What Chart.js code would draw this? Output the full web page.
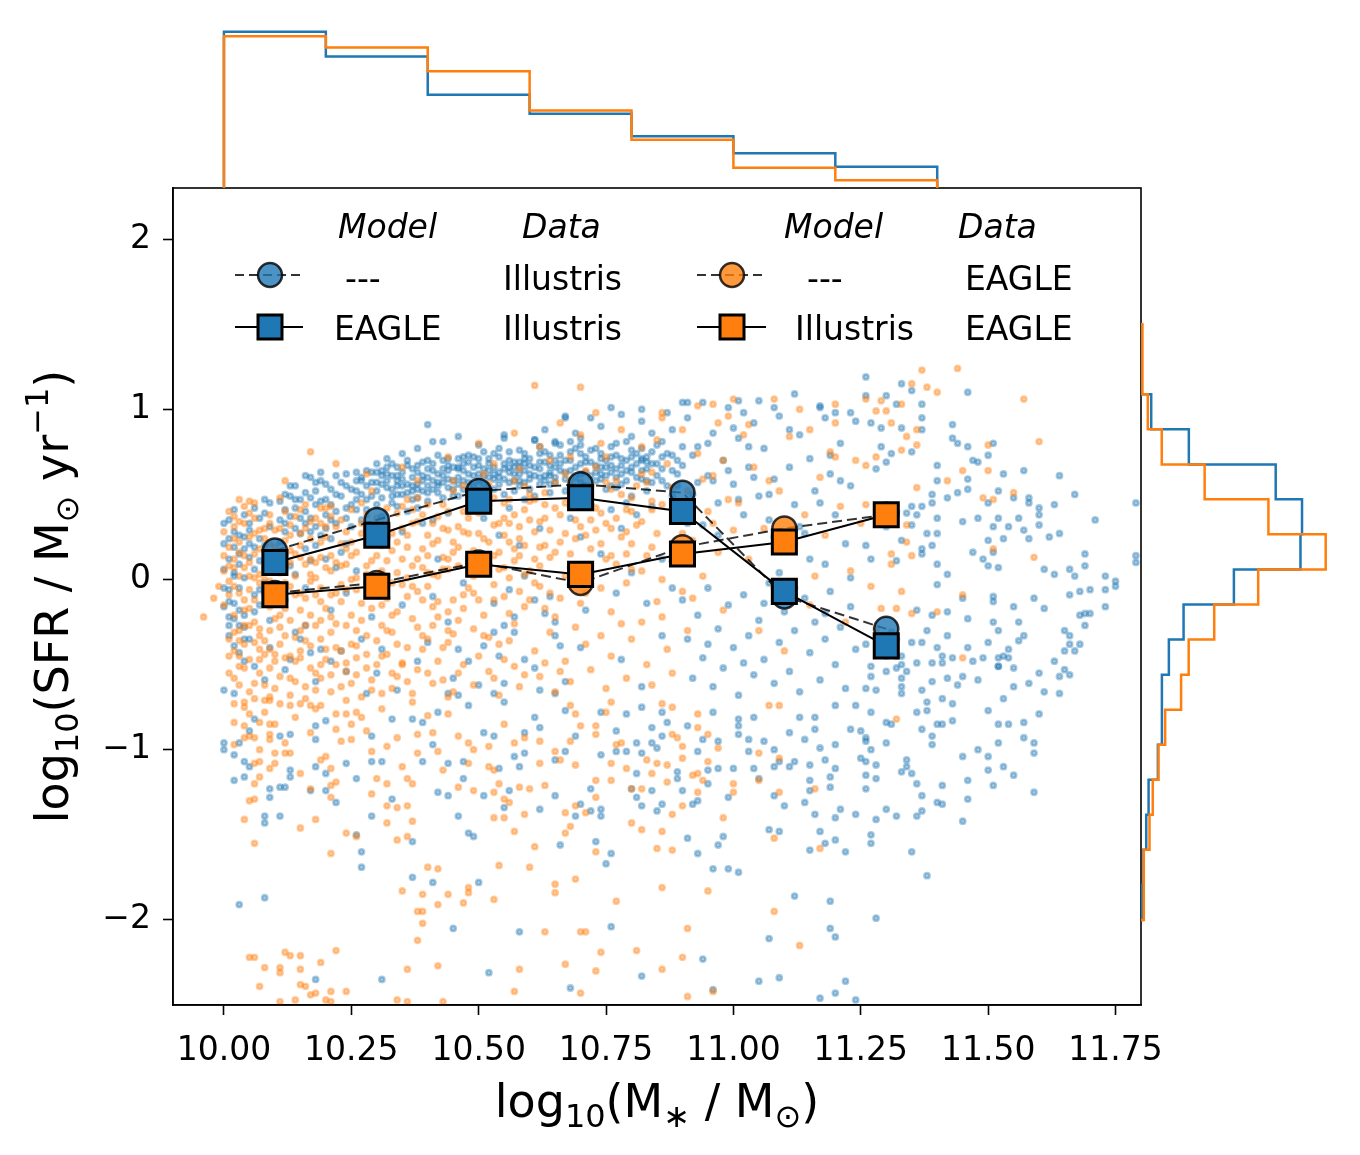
<!DOCTYPE html>
<html>
<head>
<meta charset="utf-8">
<script src="https://cdn.jsdelivr.net/npm/chart.js@4.4.1/dist/chart.umd.min.js"></script>
<style>
  html, body { margin: 0; padding: 0; background: #fff; }
  #wrap { position: relative; width: 1360px; height: 1155px; }
  canvas { position: absolute; }
  #main { left: 0; top: 0; }
  #top { left: 173px; top: 24px; }
  #right { left: 1141px; top: 188px; }
</style>
</head>
<body>
<div id="wrap">
  <canvas id="main" width="1360" height="1155"></canvas>
  <canvas id="top" width="968" height="164"></canvas>
  <canvas id="right" width="194" height="817"></canvas>
</div>
<script>
// ---- data ----
// galaxies: flat lists of log10(M*/Msun), log10(SFR) pairs
const illustrisPts = [
  // high mass, quenched tail
  11.26,1.19, 11.33,1.15, 11.35,1.11, 11.46,1.10, 11.26,1.08, 11.30,1.08, 11.32,1.03, 11.37,1.03, 11.37,0.95, 11.27,0.92,
  11.29,0.89, 11.33,0.89, 11.43,0.91, 11.37,0.88, 11.43,0.83, 11.44,0.80, 11.46,0.78, 11.29,0.78, 11.31,0.74, 11.35,0.75,
  11.50,0.73, 11.51,0.80, 11.30,0.69, 11.28,0.65, 11.40,0.67, 11.47,0.70, 11.48,0.69, 11.40,0.58, 11.46,0.59, 11.53,0.62,
  11.57,0.64, 11.64,0.61, 11.44,0.51, 11.46,0.53, 11.52,0.52, 11.39,0.50, 11.42,0.48, 11.35,0.43, 11.37,0.43, 11.39,0.45,
  11.50,0.45, 11.55,0.48, 11.58,0.48, 11.58,0.45, 11.60,0.42, 11.60,0.38, 11.63,0.44, 11.67,0.50, 11.79,0.45, 11.32,0.40,
  11.34,0.39, 11.36,0.38, 11.40,0.36, 11.45,0.34, 11.48,0.36, 11.52,0.36, 11.56,0.36, 11.60,0.32, 11.71,0.35, 11.30,0.31,
  11.35,0.32, 11.38,0.27, 11.40,0.27, 11.51,0.31, 11.54,0.31, 11.57,0.29, 11.58,0.24, 11.50,0.23, 11.53,0.24, 11.62,0.25,
  11.64,0.27, 11.26,0.20, 11.33,0.23, 11.39,0.20, 11.37,0.18, 11.37,0.15, 11.47,0.16, 11.49,0.12, 11.51,0.16, 11.27,0.12,
  11.32,0.11, 11.40,0.09, 11.42,0.03, 11.50,0.08, 11.52,0.07, 11.61,0.06, 11.63,0.03, 11.66,0.06, 11.67,0.02, 11.69,0.08,
  11.69,0.15, 11.79,0.14, 11.79,0.10, 11.73,0.02, 11.75,-0.01, 11.75,-0.04, 11.73,-0.06, 11.70,-0.06, 11.68,-0.07, 11.66,-0.09,
  11.69,-0.20, 11.70,-0.20, 11.68,-0.21, 11.69,-0.27, 11.73,-0.16, 11.61,-0.17, 11.59,-0.11, 11.55,-0.16, 11.51,-0.10, 11.51,-0.13,
  11.45,-0.11, 11.40,-0.03, 11.36,-0.18, 11.39,-0.21, 11.42,-0.19, 11.46,-0.23, 11.51,-0.25, 11.52,-0.30, 11.56,-0.25, 11.57,-0.33,
  11.56,-0.36, 11.54,-0.41, 11.54,-0.46, 11.52,-0.51, 11.55,-0.52, 11.60,-0.55, 11.63,-0.48, 11.65,-0.53, 11.65,-0.30, 11.66,-0.33,
  11.66,-0.38, 11.68,-0.38, 11.65,-0.42, 11.67,-0.42, 11.64,-0.57, 11.66,-0.56, 11.61,-0.66, 11.64,-0.67, 11.58,-0.61, 11.55,-0.63,
  11.53,-0.70, 11.60,-0.79, 11.57,-0.84, 11.54,-0.85, 11.52,-0.85, 11.52,-0.96, 11.57,-0.93, 11.59,-0.96, 11.59,-1.02, 11.50,-0.77,
  11.48,-1.00, 11.50,-1.04, 11.53,-1.10, 11.55,-1.15, 11.50,-1.12, 11.46,-1.18, 11.51,-1.21, 11.46,-1.29, 11.59,-1.25, 11.45,-1.04,
  11.41,-1.21, 11.37,-1.27, 11.34,-1.06, 11.34,-1.10, 11.33,-1.13, 11.35,-1.14, 11.36,-1.20, 11.40,-1.31, 11.41,-1.32, 11.37,-1.36,
  11.36,-1.39, 11.32,-1.39, 11.45,-1.42, 11.35,-1.60, 11.38,-1.74, 11.43,-0.83, 11.41,-0.85, 11.40,-0.85, 11.39,-0.92, 11.39,-0.97,
  11.37,-0.88, 11.31,-0.85, 11.28,-0.65, 11.26,-0.64, 11.27,-0.57, 11.27,-0.51, 11.30,-0.54, 11.32,-0.52, 11.33,-0.50, 11.34,-0.54,
  11.33,-0.58, 11.33,-0.63, 11.33,-0.67, 11.37,-0.65, 11.38,-0.72, 11.38,-0.77, 11.36,-0.78, 11.41,-0.70, 11.43,-0.73, 11.39,-0.60,
  11.42,-0.58, 11.44,-0.62, 11.45,-0.57, 11.48,-0.59, 11.36,-0.49, 11.39,-0.49, 11.41,-0.49, 11.41,-0.45, 11.43,-0.46, 11.40,-0.40,
  11.42,-0.33, 11.38,-0.30, 11.37,-0.37, 11.35,-0.37, 11.31,-0.31, 11.32,-0.35, 11.26,-0.38, 11.30,-0.41, 11.30,-0.45, 11.32,-0.45,
  11.33,-0.45, 11.47,-0.48, 11.49,-0.46, 11.50,-0.37, 11.46,-0.40, 11.52,-0.46, 11.53,-0.45, 11.52,-0.51,
  // 10.66 - 11.3, low SFR
  10.67,-0.77, 10.69,-0.92, 10.67,-1.01, 10.74,-1.03, 10.72,-1.23, 10.70,-1.32, 10.72,-1.36, 10.74,-1.35, 10.74,-1.39, 10.69,-1.39,
  10.73,-1.54, 10.76,-1.61, 10.75,-1.67, 10.66,-1.56, 10.77,-1.01, 10.79,-1.01, 10.81,-0.96, 10.84,-0.96, 10.85,-0.99, 10.86,-0.92,
  10.87,-0.84, 10.91,-0.86, 10.82,-1.02, 10.81,-1.14, 10.80,-1.23, 10.84,-1.24, 10.81,-1.28, 10.82,-1.33, 10.85,-1.36, 10.86,-1.32,
  10.89,-1.17, 10.89,-1.13, 10.90,-1.24, 10.92,-1.32, 10.93,-1.30, 10.95,-1.20, 10.95,-1.12, 10.93,-1.01, 10.94,-0.94, 10.97,-0.95,
  10.97,-1.11, 10.99,-1.28, 11.00,-1.11, 11.01,-0.91, 11.01,-0.86, 11.03,-0.94, 11.03,-1.01, 11.04,-1.11, 11.05,-1.17, 11.06,-0.95,
  11.08,-1.00, 11.08,-1.10, 11.09,-1.07, 11.11,-1.10, 11.12,-1.07, 11.15,-1.09, 11.15,-1.18, 11.15,-1.24, 11.14,-1.31, 11.16,-1.38,
  11.17,-1.48, 11.18,-1.55, 11.20,-1.53, 11.20,-1.40, 11.21,-1.35, 11.19,-1.22, 11.19,-1.16, 11.20,-1.11, 11.18,-1.06, 11.20,-0.97,
  11.17,-0.99, 11.16,-0.88, 11.14,-0.94, 11.13,-0.81, 11.11,-0.90, 11.10,-1.33, 11.08,-1.27, 11.07,-1.47, 11.09,-1.48, 11.15,-1.59,
  11.22,-1.60, 11.24,-1.38, 11.26,-1.15, 11.26,-1.23, 11.28,-1.17, 11.28,-1.09, 11.26,-1.07, 11.25,-1.05, 11.27,-1.00, 11.30,-0.96,
  11.26,-0.95, 11.30,-1.35, 11.28,-1.41, 11.27,-1.55, 11.27,-1.50, 10.91,-1.52, 10.93,-1.61, 10.97,-1.56, 10.98,-1.51, 10.96,-1.70,
  10.99,-1.70, 11.01,-1.72, 11.12,-1.86, 11.19,-1.89, 11.28,-1.99, 11.19,-2.05, 11.20,-2.10, 11.07,-2.11, 10.94,-2.23, 10.82,-2.33,
  10.76,-2.04, 10.68,-2.40, 10.96,-2.41, 11.05,-2.36, 11.09,-2.34, 11.17,-2.46, 11.20,-2.43, 11.22,-2.36, 11.24,-2.47, 11.01,-0.82,
  11.04,-0.81, 11.16,-0.81, 11.20,-0.74, 11.24,-0.74, 11.27,-0.78, 11.30,-0.84, 11.23,-0.88, 11.25,-0.89, 11.26,-0.93, 10.96,-0.78,
  10.82,-0.75, 10.86,-0.78, 10.84,-0.87, 10.77,-0.89, 10.79,-0.79, 10.74,-0.78,
  // 10.0 - 10.66, low SFR
  10.00,-0.96, 10.00,-1.00, 10.02,-1.03, 10.02,-1.18, 10.04,-1.16, 10.04,-1.07, 10.05,-1.10, 10.05,-0.89, 10.03,-0.96, 10.06,-0.82,
  10.09,-1.28, 10.09,-1.23, 10.08,-1.43, 10.08,-1.39, 10.11,-1.39, 10.11,-1.22, 10.12,-1.22, 10.13,-1.16, 10.13,-1.12, 10.13,-0.91,
  10.11,-0.92, 10.18,-0.94, 10.18,-0.86, 10.20,-0.83, 10.18,-1.10, 10.20,-1.14, 10.22,-1.31, 10.24,-1.08, 10.26,-1.17, 10.29,-0.92,
  10.29,-1.07, 10.31,-1.07, 10.33,-0.82, 10.33,-1.29, 10.29,-1.39, 10.26,-1.50, 10.27,-1.60, 10.27,-1.69, 10.37,-1.54, 10.37,-1.75,
  10.41,-1.78, 10.46,-1.39, 10.47,-1.17, 10.48,-1.49, 10.49,-1.51, 10.50,-1.78, 10.45,-2.05, 10.39,-1.07, 10.41,-0.97, 10.42,-1.25,
  10.44,-1.08, 10.44,-1.27, 10.47,-1.07, 10.51,-1.27, 10.54,-1.11, 10.56,-1.24, 10.55,-1.34, 10.58,-1.10, 10.59,-1.02, 10.62,-1.35,
  10.65,-1.27, 10.58,-2.07, 10.52,-2.31, 10.31,-2.35, 10.18,-2.35, 10.08,-1.87, 10.03,-1.91, 10.17,-1.24, 10.20,-1.24, 10.65,-1.06,
  10.61,-0.81, 10.59,-0.90, 10.53,-0.92, 10.57,-1.04, 10.39,-0.84, 10.37,-0.82, 10.42,-0.78, 10.48,-0.74, 10.51,-0.90, 10.62,-0.87,
  10.55,-0.72,
  // below the sequence, -0.7 .. 0
  10.00,0.21, 10.01,-0.06, 10.01,-0.22, 10.01,-0.33, 10.02,-0.23, 10.03,-0.27, 10.04,-0.35, 10.03,-0.43, 10.04,-0.48, 10.06,-0.51,
  10.02,0.04, 10.00,-0.16, 10.00,-0.65, 10.02,-0.67, 10.08,-0.59, 10.09,-0.40, 10.13,-0.47, 10.17,-0.43, 10.19,-0.41, 10.21,-0.48,
  10.24,-0.54, 10.28,-0.67, 10.44,-0.67, 10.46,-0.68, 10.48,-0.48, 10.51,-0.39, 10.53,-0.31, 10.55,-0.27, 10.57,-0.22, 10.57,-0.31,
  10.59,-0.47, 10.61,-0.12, 10.63,-0.20, 10.65,-0.25, 10.65,-0.33, 10.66,-0.39, 10.62,-0.65, 10.65,-0.67, 10.53,-0.67, 10.55,-0.61,
  10.46,-0.41, 10.40,-0.37, 10.31,-0.41, 10.27,-0.35, 10.16,-0.27, 10.15,-0.35, 10.12,-0.53,
  10.12,-0.12, 10.16,-0.05, 10.21,-0.18, 10.24,-0.08, 10.29,-0.22, 10.32,-0.03, 10.35,-0.15, 10.41,-0.10, 10.44,-0.25, 10.47,-0.02,
  10.53,-0.14, 10.56,-0.06, 10.59,0.02, 10.64,-0.10, 10.68,-0.03, 10.71,-0.18, 10.77,-0.08, 10.80,0.04, 10.83,-0.14, 10.88,-0.05,
  10.14,-0.31, 10.23,-0.42, 10.30,-0.55, 10.38,-0.48, 10.45,-0.58, 10.54,-0.45, 10.61,-0.52, 10.70,-0.40, 10.78,-0.47, 10.86,-0.33,
  10.18,-0.60, 10.34,-0.65, 10.50,-0.62, 10.67,-0.60, 10.82,-0.63, 10.26,0.05, 10.42,0.12, 10.58,0.20, 10.74,0.15, 10.90,0.20,
  10.70,0.25, 10.78,0.30, 10.86,0.12, 10.62,0.30, 10.54,0.26,
  // upper scatter above the sequence
  10.40,0.91, 10.46,0.84, 10.41,0.81, 10.43,0.81, 10.38,0.77, 10.32,0.71, 10.27,0.60, 10.17,0.60, 10.19,0.63, 10.67,0.95,
  10.55,0.83, 10.61,0.82, 10.50,0.79, 10.65,0.81, 11.12,1.09, 11.05,1.05, 11.01,1.05, 11.02,0.98, 10.90,1.04, 10.91,1.04,
  10.76,1.01, 10.82,1.00, 10.67,0.96, 11.08,1.01, 11.17,1.01, 11.18,0.95, 11.23,0.98,
  // star-forming sequence
  10.01,0.12, 10.02,0.28, 10.03,-0.05, 10.04,0.18, 10.05,0.33, 10.02,-0.14, 10.06,0.06, 10.07,0.24, 10.08,0.39, 10.03,0.09,
  10.09,0.15, 10.01,0.35, 10.04,-0.21, 10.06,0.42, 10.08,-0.02, 10.05,0.21, 10.02,0.02, 10.09,0.31, 10.07,0.11, 10.03,0.26,
  10.00,0.06, 10.04,0.38, 10.06,-0.09, 10.08,0.20, 10.01,-0.27, 10.05,0.13, 10.09,0.45, 10.07,-0.15, 10.02,0.19, 10.04,0.01,
  10.00,-0.05, 10.01,0.24, 10.02,-0.39, 10.03,0.15, 10.04,-0.28, 10.05,0.29, 10.06,-0.19, 10.07,0.36, 10.08,0.06, 10.09,-0.24,
  10.00,0.33, 10.01,-0.13, 10.02,0.41, 10.03,-0.18, 10.04,0.25, 10.05,-0.35, 10.06,0.19, 10.07,-0.06, 10.08,0.47, 10.09,0.09,
  10.11,0.22, 10.12,0.41, 10.13,0.08, 10.14,0.30, 10.15,0.47, 10.16,0.18, 10.17,0.36, 10.18,0.52, 10.19,0.26, 10.20,0.12,
  10.21,0.44, 10.22,0.33, 10.23,0.57, 10.24,0.21, 10.11,0.35, 10.12,0.15, 10.13,0.49, 10.14,0.03, 10.15,0.27, 10.16,0.40,
  10.17,0.11, 10.18,0.31, 10.19,0.46, 10.20,0.38, 10.21,0.24, 10.22,0.50, 10.23,0.16, 10.24,0.42, 10.25,0.31, 10.12,0.28,
  10.14,0.55, 10.16,0.61, 10.18,0.20, 10.20,0.56, 10.22,0.07, 10.24,0.62, 10.13,0.37, 10.17,0.48, 10.21,0.35, 10.25,0.53,
  10.11,0.46, 10.12,0.33, 10.13,0.55, 10.14,0.42, 10.15,0.36, 10.16,0.51, 10.17,0.28, 10.18,0.44, 10.19,0.58, 10.20,0.47,
  10.21,0.53, 10.22,0.40, 10.23,0.49, 10.24,0.55, 10.25,0.44, 10.26,0.58, 10.27,0.50, 10.28,0.55, 10.29,0.63, 10.30,0.57,
  10.12,0.50, 10.14,0.47, 10.16,0.33, 10.18,0.57, 10.20,0.30, 10.22,0.61, 10.24,0.36, 10.26,0.47, 10.28,0.41, 10.30,0.68,
  10.26,0.41, 10.27,0.58, 10.28,0.30, 10.29,0.49, 10.30,0.63, 10.31,0.37, 10.32,0.54, 10.33,0.45, 10.34,0.66, 10.35,0.28,
  10.36,0.51, 10.37,0.60, 10.38,0.42, 10.39,0.69, 10.40,0.55, 10.41,0.35, 10.42,0.62, 10.43,0.48, 10.44,0.71, 10.45,0.58,
  10.26,0.52, 10.28,0.64, 10.30,0.44, 10.32,0.25, 10.34,0.50, 10.36,0.67, 10.38,0.56, 10.40,0.46, 10.42,0.73, 10.44,0.39,
  10.27,0.35, 10.29,0.57, 10.31,0.61, 10.33,0.53, 10.35,0.59, 10.37,0.47, 10.39,0.52, 10.41,0.64, 10.43,0.57, 10.45,0.66,
  10.30,0.52, 10.34,0.43, 10.38,0.63, 10.42,0.51, 10.28,0.47, 10.36,0.40, 10.40,0.70, 10.44,0.54, 10.33,0.68, 10.39,0.33,
  10.26,0.63, 10.31,0.48, 10.35,0.74, 10.43,0.65, 10.37,0.55,
  10.31,0.64, 10.32,0.58, 10.33,0.49, 10.34,0.61, 10.35,0.55, 10.36,0.70, 10.37,0.52, 10.38,0.67, 10.39,0.61, 10.40,0.51,
  10.41,0.68, 10.42,0.55, 10.43,0.70, 10.44,0.59, 10.45,0.53, 10.46,0.65, 10.47,0.58, 10.48,0.73, 10.49,0.66, 10.50,0.62,
  10.51,0.56, 10.52,0.64, 10.53,0.74, 10.54,0.60, 10.55,0.65, 10.56,0.75, 10.57,0.69, 10.58,0.58, 10.59,0.68, 10.60,0.59,
  10.32,0.66, 10.35,0.63, 10.38,0.53, 10.41,0.58, 10.44,0.67, 10.47,0.72, 10.50,0.71, 10.53,0.62, 10.56,0.66, 10.59,0.74,
  10.34,0.58, 10.40,0.65, 10.46,0.56, 10.52,0.53, 10.58,0.66,
  10.46,0.49, 10.47,0.64, 10.48,0.57, 10.49,0.72, 10.50,0.45, 10.51,0.61, 10.52,0.68, 10.53,0.53, 10.54,0.77, 10.55,0.59,
  10.56,0.42, 10.57,0.66, 10.58,0.55, 10.59,0.71, 10.60,0.62, 10.61,0.49, 10.62,0.74, 10.63,0.58, 10.64,0.67, 10.65,0.80,
  10.46,0.60, 10.48,0.69, 10.50,0.58, 10.52,0.44, 10.54,0.63, 10.56,0.70, 10.58,0.62, 10.60,0.53, 10.62,0.65, 10.64,0.51,
  10.47,0.53, 10.49,0.61, 10.51,0.75, 10.53,0.66, 10.55,0.50, 10.57,0.58, 10.59,0.64, 10.61,0.82, 10.63,0.69, 10.65,0.57,
  10.50,0.67, 10.54,0.56, 10.58,0.76, 10.62,0.56, 10.48,0.40, 10.56,0.63, 10.60,0.71, 10.64,0.61, 10.52,0.60, 10.46,0.71,
  10.55,0.85, 10.59,0.47, 10.63,0.88, 10.51,0.36, 10.57,0.52,
  10.31,0.56, 10.33,0.61, 10.35,0.50, 10.37,0.65, 10.39,0.58, 10.41,0.53, 10.43,0.61, 10.45,0.49, 10.47,0.68, 10.49,0.55,
  10.51,0.65, 10.53,0.59, 10.55,0.68, 10.57,0.62, 10.59,0.57, 10.61,0.66, 10.63,0.61, 10.65,0.70, 10.67,0.59, 10.69,0.66,
  10.71,0.72, 10.73,0.63, 10.75,0.70, 10.77,0.65, 10.79,0.58, 10.81,0.68, 10.83,0.72, 10.32,0.62, 10.36,0.56, 10.40,0.60,
  10.44,0.64, 10.48,0.62, 10.52,0.71, 10.56,0.57, 10.60,0.67, 10.64,0.73, 10.68,0.64, 10.72,0.61, 10.76,0.67, 10.80,0.76,
  10.84,0.68, 10.34,0.55, 10.42,0.57, 10.50,0.52, 10.58,0.69, 10.66,0.68, 10.74,0.59, 10.82,0.64, 10.46,0.66, 10.54,0.72,
  10.62,0.60, 10.70,0.74, 10.78,0.71, 10.38,0.48, 10.86,0.65,
  10.66,0.64, 10.67,0.52, 10.68,0.75, 10.69,0.60, 10.70,0.83, 10.71,0.47, 10.72,0.69, 10.73,0.58, 10.74,0.90, 10.75,0.66,
  10.76,0.41, 10.77,0.73, 10.78,0.56, 10.79,0.81, 10.80,0.63, 10.81,0.38, 10.82,0.70, 10.83,0.52, 10.84,0.86, 10.85,0.61,
  10.66,0.79, 10.68,0.55, 10.70,0.68, 10.72,0.44, 10.74,0.62, 10.76,0.78, 10.78,0.67, 10.80,0.49, 10.82,0.93, 10.84,0.57,
  10.67,0.70, 10.69,0.86, 10.71,0.63, 10.73,0.77, 10.75,0.53, 10.77,0.60, 10.79,0.45, 10.81,0.74, 10.83,0.65, 10.85,0.79,
  10.70,0.57, 10.74,0.71, 10.78,0.97, 10.82,0.59, 10.68,0.36, 10.76,0.55, 10.80,0.72, 10.84,0.43, 10.72,0.95, 10.79,0.64,
  10.61,0.61, 10.62,0.69, 10.63,0.75, 10.64,0.63, 10.65,0.66, 10.66,0.73, 10.67,0.63, 10.68,0.70, 10.69,0.77, 10.70,0.62,
  10.71,0.69, 10.72,0.76, 10.73,0.67, 10.74,0.74, 10.75,0.61, 10.76,0.72, 10.77,0.80, 10.78,0.62, 10.79,0.70, 10.80,0.66,
  10.81,0.60, 10.82,0.77, 10.83,0.69, 10.84,0.75, 10.85,0.68, 10.86,0.58, 10.87,0.74, 10.88,0.64, 10.89,0.70, 10.90,0.78,
  10.62,0.78, 10.65,0.60, 10.68,0.81, 10.71,0.55, 10.74,0.66, 10.77,0.54, 10.80,0.84, 10.83,0.58, 10.86,0.81, 10.89,0.55,
  10.64,0.56, 10.70,0.79, 10.76,0.63, 10.82,0.71, 10.88,0.73,
  10.86,0.72, 10.87,0.55, 10.88,0.88, 10.89,0.41, 10.90,0.67, 10.91,0.95, 10.92,0.50, 10.93,0.78, 10.94,0.32, 10.95,0.61,
  10.96,0.86, 10.97,0.45, 10.98,0.70, 10.99,1.01, 11.00,0.56, 11.01,0.83, 11.02,0.38, 11.03,0.66, 11.04,0.92, 11.05,0.49,
  10.87,0.98, 10.89,0.62, 10.91,0.33, 10.93,0.57, 10.95,0.80, 10.97,0.26, 10.99,0.64, 11.01,0.47, 11.03,0.78, 10.88,0.49,
  10.92,0.73, 10.96,0.58, 11.00,0.89, 11.04,0.60, 10.94,1.04,
  11.06,0.77, 11.07,0.35, 11.08,0.59, 11.09,0.96, 11.10,0.18, 11.11,0.66, 11.12,0.44, 11.13,0.85, 11.14,0.27, 11.15,0.71,
  11.16,0.52, 11.17,1.02, 11.18,0.09, 11.19,0.62, 11.20,0.38, 11.21,0.80, 11.22,0.21, 11.23,0.55, 11.24,0.93, 11.07,0.50,
  11.09,0.04, 11.11,0.88, 11.13,0.31, 11.15,0.12, 11.17,0.45, 11.19,0.73, 11.21,0.58, 11.23,0.01, 11.08,0.25, 11.20,0.98,
  10.90,-0.12, 10.91,-0.35, 10.92,-0.58, 10.93,-0.21, 10.94,-0.46, 10.95,-0.05, 10.96,-0.63, 10.97,-0.29, 10.98,-0.52, 10.99,-0.15,
  11.00,-0.40, 11.01,-0.68, 11.02,-0.09, 11.03,-0.33, 11.04,-0.56, 11.05,-0.24, 11.06,-0.47, 11.07,-0.02, 11.08,-0.61, 11.09,-0.37,
  11.10,-0.19, 11.11,-0.54, 11.12,-0.30, 11.13,-0.66, 11.14,-0.11, 11.15,-0.43, 11.16,-0.25, 11.17,-0.59, 11.18,-0.35, 11.19,-0.07,
  11.20,-0.50, 11.21,-0.28, 11.22,-0.64, 11.23,-0.16, 11.24,-0.41, 11.06,-0.14, 11.12,-0.05, 11.18,-0.20, 10.95,-0.38, 11.02,-0.49
];

const eaglePts = [
  // high mass
  11.37,1.23, 11.44,1.24, 11.35,1.15, 11.38,1.13, 11.40,1.10, 11.57,1.06, 11.26,1.06, 11.29,1.05, 11.33,1.03, 11.28,0.99,
  11.30,0.99, 11.31,0.92, 11.34,0.84, 11.36,0.88, 11.36,0.79, 11.33,0.76, 11.28,0.72, 11.26,0.67, 11.50,0.79, 11.60,0.81,
  11.45,0.64, 11.50,0.64, 11.42,0.58, 11.36,0.54, 11.49,0.48, 11.51,0.47, 11.55,0.51, 11.34,0.32, 11.34,0.22, 11.31,0.15,
  11.35,0.14, 11.31,0.09, 11.51,0.18, 11.59,0.13, 11.33,-0.07, 11.27,-0.04, 11.45,-0.09, 11.29,-0.17, 11.32,-0.17, 11.35,-0.20,
  11.40,-0.19, 11.28,-0.29, 11.45,-0.46, 11.32,-0.82, 11.26,0.44,
  // 10.66 - 11.3, low SFR
  10.68,-0.74, 10.69,-0.79, 10.70,-0.86, 10.76,-0.72, 10.75,-0.78, 10.73,-0.86, 10.73,-0.91, 10.68,-0.95, 10.66,-1.06, 10.69,-1.09,
  10.77,-0.97, 10.78,-0.96, 10.76,-1.08, 10.76,-1.18, 10.73,-1.18, 10.73,-1.28, 10.69,-1.33, 10.67,-1.37, 10.71,-1.37, 10.68,-1.45,
  10.67,-1.49, 10.73,-1.60, 10.69,-1.76, 10.80,-1.43, 10.82,-1.47, 10.86,-1.48, 10.85,-1.58, 10.88,-1.59, 10.88,-1.38, 10.90,-1.33,
  10.93,-1.25, 10.90,-1.05, 10.90,-0.98, 10.88,-0.91, 10.89,-0.93, 10.86,-0.73, 10.88,-0.75, 10.93,-0.79, 10.93,-0.87, 10.95,-0.91,
  10.97,-0.99, 10.95,-1.07, 10.92,-1.15, 10.93,-1.14, 10.94,-1.18, 10.84,-1.14, 10.85,-1.08, 10.83,-1.06, 10.87,-1.09, 10.87,-1.19,
  10.79,-1.11, 10.82,-1.23, 10.80,-1.23, 10.98,-1.40, 11.00,-1.20, 11.00,-1.25, 11.05,-1.02, 11.05,-1.18, 11.09,-1.05, 11.09,-1.25,
  11.16,-1.23, 11.08,-1.52, 11.17,-1.58, 11.07,-0.74, 11.09,-0.74, 10.86,-1.81, 10.95,-1.83, 11.08,-1.95, 11.13,-2.15, 10.77,-1.89,
  10.70,-2.07, 10.71,-2.07, 10.74,-2.19, 10.81,-2.18, 10.91,-2.05, 10.90,-2.22, 10.86,-2.29, 10.73,-2.30, 10.67,-2.26, 10.70,-2.43,
  10.91,-2.45, 10.96,-2.42,
  // 10.0 - 10.66, low SFR
  10.02,-0.73, 10.04,-0.72, 10.08,-0.71, 10.09,-0.71, 10.02,-0.84, 10.04,-0.86, 10.05,-0.79, 10.07,-0.84, 10.10,-0.85, 10.13,-0.74,
  10.15,-0.73, 10.17,-0.74, 10.19,-0.74, 10.22,-0.79, 10.24,-0.79, 10.25,-0.85, 10.26,-0.78, 10.02,-0.97, 10.04,-0.93, 10.06,-0.93,
  10.07,-1.00, 10.09,-0.94, 10.09,-0.91, 10.10,-1.02, 10.12,-1.02, 10.13,-1.02, 10.06,-1.08, 10.07,-1.07, 10.09,-1.11, 10.10,-1.08,
  10.06,-1.20, 10.07,-1.16, 10.05,-1.30, 10.06,-1.29, 10.04,-1.41, 10.06,-1.55, 10.15,-1.14, 10.15,-1.46, 10.18,-1.41, 10.17,-1.23,
  10.19,-1.06, 10.20,-1.04, 10.21,-1.11, 10.21,-1.21, 10.21,-1.28, 10.21,-1.61, 10.22,-1.19, 10.24,-1.49, 10.26,-1.51, 10.25,-0.94,
  10.29,-1.01, 10.30,-1.17, 10.29,-1.26, 10.32,-1.20, 10.32,-1.33, 10.34,-1.34, 10.36,-1.33, 10.32,-1.43, 10.37,-1.42, 10.34,-1.53,
  10.36,-1.51, 10.34,-0.93, 10.35,-1.10, 10.36,-1.17, 10.37,-1.20, 10.38,-0.91, 10.38,-1.02, 10.41,-0.90, 10.42,-1.01, 10.43,-1.12,
  10.44,-0.79, 10.46,-0.92, 10.46,-1.22, 10.48,-0.96, 10.49,-1.24, 10.49,-1.00, 10.48,-1.08, 10.52,-1.10, 10.53,-1.12, 10.54,-1.20,
  10.53,-1.25, 10.55,-1.29, 10.56,-1.31, 10.58,-1.22, 10.60,-1.23, 10.63,-1.21, 10.59,-1.38, 10.57,-1.48, 10.53,-1.40, 10.55,-1.40,
  10.52,-0.98, 10.55,-0.85, 10.57,-0.96, 10.59,-0.93, 10.62,-0.95, 10.62,-1.08, 10.65,-1.01, 10.61,-1.57, 10.60,-1.69, 10.54,-1.68,
  10.65,-1.79, 10.65,-1.84, 10.42,-1.70, 10.40,-1.69, 10.35,-1.83, 10.39,-1.85, 10.38,-1.95, 10.39,-1.95, 10.44,-1.85, 10.42,-1.91,
  10.39,-2.02, 10.38,-2.12, 10.47,-1.90, 10.48,-1.81, 10.48,-1.84, 10.53,-1.88, 10.63,-2.07, 10.58,-2.29, 10.57,-2.42, 10.42,-2.27,
  10.36,-2.29, 10.34,-2.47, 10.36,-2.48, 10.43,-2.48, 10.05,-2.22, 10.06,-2.22, 10.12,-2.19, 10.13,-2.21, 10.15,-2.21, 10.22,-2.18,
  10.19,-2.25, 10.08,-2.28, 10.11,-2.28, 10.11,-2.31, 10.15,-2.29, 10.07,-2.39, 10.15,-2.38, 10.16,-2.39, 10.17,-2.44, 10.18,-2.43,
  10.21,-2.42, 10.24,-2.42, 10.11,-2.48, 10.14,-2.47, 10.20,-2.47, 10.21,-2.48,
  10.01,-0.55, 10.03,-0.62, 10.04,-0.75, 10.06,-0.70, 10.08,-0.78, 10.10,-0.64, 10.11,-0.73, 10.13,-0.58, 10.14,-0.81, 10.16,-0.70,
  10.18,-0.76, 10.19,-0.50, 10.21,-0.66, 10.22,-0.88, 10.24,-0.71, 10.26,-0.56, 10.27,-0.81, 10.29,-0.65, 10.31,-0.76, 10.33,-0.55,
  10.05,-0.92, 10.09,-0.85, 10.12,-0.96, 10.17,-0.90, 10.23,-0.95, 10.28,-0.89, 10.32,-0.98, 10.37,-0.72, 10.40,-0.80, 10.44,-0.69,
  // just below the core
  10.02,-0.58, 10.05,-0.66, 10.07,-0.55, 10.08,-0.62, 10.11,-0.57, 10.13,-0.68, 10.14,-0.60, 10.17,-0.52, 10.18,-0.65, 10.21,-0.56,
  10.23,-0.63, 10.24,-0.54, 10.27,-0.69, 10.29,-0.59, 10.30,-0.50, 10.33,-0.64, 10.34,-0.57, 10.37,-0.67, 10.38,-0.53, 10.41,-0.61,
  10.42,-0.48, 10.45,-0.66, 10.46,-0.55, 10.49,-0.62, 10.50,-0.45, 10.53,-0.58, 10.54,-0.68, 10.57,-0.51, 10.58,-0.63, 10.61,-0.42,
  10.62,-0.57, 10.65,-0.66, 10.67,-0.48, 10.68,-0.60, 10.71,-0.38, 10.72,-0.53, 10.75,-0.64, 10.76,-0.45, 10.79,-0.58, 10.80,-0.35,
  10.83,-0.50, 10.84,-0.62, 10.87,-0.41, 10.88,-0.55, 10.91,-0.30, 10.03,-0.45, 10.10,-0.48, 10.15,-0.42, 10.22,-0.50, 10.26,-0.46,
  10.32,-0.44, 10.39,-0.41, 10.44,-0.37, 10.51,-0.33, 10.56,-0.36, 10.64,-0.31, 10.69,-0.28, 10.74,-0.33, 10.82,-0.25, 10.86,-0.22,
  10.04,-0.52, 10.06,-0.61, 10.09,-0.69, 10.12,-0.46, 10.16,-0.63, 10.19,-0.58, 10.20,-0.47, 10.25,-0.61, 10.28,-0.52, 10.31,-0.67,
  10.35,-0.49, 10.36,-0.60, 10.40,-0.55, 10.43,-0.59, 10.47,-0.50, 10.52,-0.54, 10.55,-0.47, 10.59,-0.56, 10.63,-0.49, 10.66,-0.54,
  // core
  9.96,-0.22, 9.98,-0.11, 9.99,-0.04, 10.00,0.28, 10.01,-0.35, 10.02,0.12, 10.03,0.47, 10.04,-0.18, 10.05,0.46, 10.00,0.05,
  10.01,0.19, 10.02,-0.42, 10.03,-0.08, 10.04,0.33, 10.05,-0.27, 10.01,0.40, 10.02,-0.21, 10.03,0.22, 10.04,0.07, 10.05,-0.47,
  10.00,-0.15, 10.02,0.31, 10.03,-0.30, 10.04,0.14, 10.05,0.02, 10.01,-0.01, 10.03,-0.51, 10.04,-0.38, 10.02,0.37, 10.05,0.25,
  10.01,0.08, 10.02,-0.31, 10.03,0.16, 10.04,-0.12, 10.05,0.39, 10.06,-0.25, 10.07,0.03, 10.08,-0.44, 10.09,0.21, 10.10,0.11,
  10.01,-0.09, 10.02,0.24, 10.03,-0.36, 10.04,0.43, 10.05,-0.06, 10.06,0.15, 10.07,-0.33, 10.08,0.30, 10.09,-0.01, 10.10,-0.23,
  10.00,0.14, 10.02,-0.04, 10.03,0.34, 10.05,-0.17, 10.06,0.27, 10.07,-0.41, 10.08,0.00, 10.09,0.38, 10.10,0.19, 10.01,-0.45,
  10.02,0.07, 10.04,-0.27, 10.05,0.10, 10.06,-0.37, 10.07,0.29, 10.08,-0.14, 10.09,-0.30, 10.03,0.02, 10.06,0.45, 10.09,-0.41,
  10.06,-0.12, 10.07,0.18, 10.08,-0.36, 10.09,0.05, 10.10,0.29, 10.11,-0.21, 10.12,0.40, 10.13,-0.04, 10.14,-0.48, 10.15,0.13,
  10.16,-0.27, 10.17,0.34, 10.18,-0.09, 10.19,0.22, 10.20,-0.41, 10.06,0.36, 10.07,-0.29, 10.08,0.09, 10.09,-0.52, 10.10,-0.07,
  10.11,0.15, 10.12,-0.33, 10.13,0.26, 10.14,0.02, 10.15,-0.18, 10.16,0.44, 10.17,-0.39, 10.18,0.10, 10.19,-0.24, 10.20,0.31,
  10.06,0.01, 10.08,0.24, 10.10,-0.44, 10.12,0.06, 10.14,0.37, 10.16,-0.11, 10.18,-0.55, 10.20,0.07, 10.07,-0.02, 10.09,0.33,
  10.11,-0.38, 10.13,0.17, 10.15,-0.30, 10.17,0.03, 10.19,0.42, 10.07,-0.47, 10.11,0.48, 10.15,0.27, 10.19,-0.13, 10.09,-0.16,
  10.11,0.04, 10.12,-0.17, 10.13,0.32, 10.14,-0.09, 10.15,0.20, 10.16,-0.36, 10.17,0.12, 10.18,0.36, 10.19,-0.05, 10.20,0.25,
  10.21,-0.31, 10.22,0.10, 10.23,-0.13, 10.24,0.28, 10.25,0.00, 10.11,-0.28, 10.12,0.23, 10.13,-0.45, 10.14,0.15, 10.15,-0.08,
  10.16,0.30, 10.17,-0.21, 10.18,0.01, 10.19,0.13, 10.20,-0.17, 10.21,0.37, 10.22,-0.40, 10.23,0.21, 10.24,-0.27, 10.25,0.14,
  10.11,0.30, 10.13,-0.24, 10.15,0.41, 10.17,-0.01, 10.19,-0.35, 10.21,0.05, 10.23,-0.03, 10.25,-0.38, 10.12,-0.02, 10.14,-0.34,
  10.16,0.09, 10.18,-0.27, 10.20,0.42, 10.22,-0.08, 10.24,0.09, 10.13,0.10, 10.17,0.24, 10.21,-0.22, 10.19,0.33, 10.15,-0.46,
  10.21,0.14, 10.22,-0.26, 10.23,0.35, 10.24,-0.06, 10.25,0.22, 10.26,-0.39, 10.27,0.45, 10.28,0.03, 10.29,-0.17, 10.30,0.28,
  10.31,-0.45, 10.32,0.11, 10.33,-0.31, 10.34,0.39, 10.35,-0.03, 10.36,0.19, 10.37,-0.23, 10.38,0.48, 10.39,0.07, 10.40,-0.35,
  10.21,-0.09, 10.23,-0.42, 10.25,0.41, 10.27,-0.14, 10.29,0.25, 10.31,0.05, 10.33,0.17, 10.35,-0.50, 10.37,0.33, 10.39,-0.12,
  10.22,0.31, 10.24,0.18, 10.26,0.01, 10.28,-0.33, 10.30,-0.08, 10.32,0.42, 10.34,-0.19, 10.36,-0.40, 10.38,0.12, 10.40,0.26,
  10.21,0.43, 10.25,-0.21, 10.29,0.52, 10.33,-0.02, 10.37,0.08, 10.23,0.08, 10.27,0.27, 10.31,-0.27, 10.35,0.30, 10.39,0.38,
  10.24,-0.49, 10.28,0.38, 10.32,-0.11, 10.36,0.47, 10.40,0.04,
  10.26,0.16, 10.27,-0.24, 10.28,0.21, 10.29,-0.06, 10.30,0.36, 10.31,-0.15, 10.32,0.02, 10.33,0.27, 10.34,-0.38, 10.35,0.12,
  10.36,-0.10, 10.37,0.41, 10.38,-0.28, 10.39,0.18, 10.40,-0.04, 10.41,0.33, 10.42,-0.22, 10.43,0.06, 10.44,0.40, 10.45,-0.12,
  10.26,-0.30, 10.28,0.08, 10.30,-0.36, 10.32,0.31, 10.34,0.04, 10.36,0.26, 10.38,-0.07, 10.40,0.14, 10.42,0.23, 10.44,-0.30,
  10.27,0.33, 10.29,0.11, 10.31,0.20, 10.33,-0.21, 10.35,0.43, 10.37,-0.04, 10.39,-0.33, 10.41,-0.16, 10.43,0.30, 10.45,0.22,
  10.26,-0.06, 10.30,0.14, 10.34,0.22, 10.38,0.34, 10.42,0.02, 10.28,-0.44, 10.36,0.01, 10.44,0.12, 10.32,-0.30, 10.40,0.44,
  10.41,0.21, 10.42,-0.13, 10.43,0.44, 10.44,0.06, 10.45,-0.32, 10.46,0.31, 10.47,0.55, 10.48,-0.05, 10.49,0.17, 10.50,0.39,
  10.51,-0.21, 10.52,0.09, 10.53,0.48, 10.54,-0.38, 10.55,0.26, 10.56,0.01, 10.57,0.58, 10.58,0.14, 10.59,-0.16, 10.60,0.35,
  10.41,-0.27, 10.43,0.13, 10.45,0.52, 10.47,-0.09, 10.49,0.42, 10.51,0.24, 10.53,-0.03, 10.55,0.45, 10.57,-0.26, 10.59,0.20,
  10.42,0.37, 10.44,-0.19, 10.46,0.08, 10.48,0.27, 10.50,-0.12, 10.52,0.56, 10.54,0.16, 10.56,0.33, 10.58,-0.07, 10.60,0.50,
  10.41,0.03, 10.45,0.16, 10.49,-0.29, 10.53,0.32, 10.57,0.11, 10.43,-0.40, 10.47,0.40, 10.51,0.62, 10.55,-0.10, 10.59,0.41,
  10.44,0.29, 10.48,0.49, 10.52,-0.34, 10.56,0.22, 10.60,0.05,
  10.46,0.19, 10.47,-0.17, 10.48,0.36, 10.49,0.02, 10.50,0.27, 10.51,0.10, 10.52,0.41, 10.53,-0.12, 10.54,0.33, 10.55,0.07,
  10.56,-0.20, 10.57,0.38, 10.58,0.24, 10.59,0.03, 10.60,0.46, 10.61,0.12, 10.62,0.34, 10.63,0.20, 10.64,-0.08, 10.65,0.42,
  10.46,-0.24, 10.48,0.13, 10.50,0.52, 10.52,0.22, 10.54,0.06, 10.56,0.47, 10.58,0.31, 10.60,-0.12, 10.62,0.08, 10.64,0.29,
  10.47,0.28, 10.49,-0.08, 10.51,0.44, 10.53,0.14, 10.55,0.36, 10.57,0.18, 10.59,0.55, 10.61,-0.02, 10.63,0.44, 10.65,0.16,
  10.61,0.28, 10.62,-0.04, 10.63,0.51, 10.64,0.13, 10.65,-0.22, 10.66,0.38, 10.67,0.62, 10.68,0.07, 10.69,0.24, 10.70,-0.14,
  10.71,0.45, 10.72,0.18, 10.73,0.66, 10.74,-0.05, 10.75,0.33, 10.76,0.53, 10.77,0.09, 10.78,-0.26, 10.79,0.41, 10.80,0.21,
  10.61,0.47, 10.63,-0.17, 10.65,0.57, 10.67,0.02, 10.69,0.49, 10.71,-0.08, 10.73,0.29, 10.75,0.12, 10.77,0.58, 10.79,-0.02,
  10.62,0.19, 10.64,0.70, 10.66,-0.11, 10.68,0.43, 10.70,0.31, 10.72,0.55, 10.74,0.39, 10.76,-0.19, 10.78,0.25, 10.80,0.48,
  10.63,0.36, 10.67,0.27, 10.71,0.64, 10.75,0.72, 10.79,0.15,
  10.66,0.22, 10.67,0.45, 10.68,0.15, 10.69,0.35, 10.70,0.52, 10.71,0.26, 10.72,0.04, 10.73,0.42, 10.74,0.21, 10.75,0.57,
  10.76,0.30, 10.77,0.36, 10.78,0.50, 10.79,0.28, 10.80,0.06, 10.81,0.55, 10.82,0.34, 10.83,0.14, 10.84,0.46, 10.85,0.27,
  10.68,0.58, 10.72,0.35, 10.76,0.14, 10.80,0.40, 10.84,0.63,
  10.81,0.32, 10.82,0.05, 10.83,0.57, 10.84,0.19, 10.85,-0.13, 10.86,0.44, 10.87,0.68, 10.88,0.11, 10.89,0.36, 10.90,-0.07,
  10.91,0.52, 10.92,0.23, 10.93,0.74, 10.94,0.02, 10.95,0.40, 10.96,0.61, 10.97,0.16, 10.98,-0.18, 10.99,0.47, 11.00,0.29,
  10.82,0.62, 10.84,0.41, 10.86,0.00, 10.88,0.54, 10.90,0.27, 10.92,-0.11, 10.94,0.59, 10.96,0.33, 10.98,0.70, 10.85,0.82,
  11.01,0.45, 11.03,0.12, 11.04,0.66, 11.06,0.30, 11.08,-0.05, 11.09,0.52, 11.11,0.84, 11.12,0.21, 11.14,0.38, 11.15,-0.15,
  11.17,0.60, 11.18,0.26, 11.20,0.92, 11.21,0.43, 11.23,0.05, 11.24,0.70, 11.05,-0.30, 11.10,-0.42, 11.16,0.02, 11.22,-0.25,
  11.02,0.85, 11.13,1.00, 11.19,0.75, 11.07,0.58, 11.25,0.33,
  // upper scatter
  10.17,0.75, 10.22,0.68, 10.61,1.14, 10.57,0.86, 10.12,0.58, 10.28,0.62, 10.35,0.66, 10.44,0.72, 10.50,0.80, 10.53,0.68,
  10.62,0.78, 10.66,0.92, 10.70,0.85, 10.74,0.80, 10.78,0.88, 10.82,0.78, 10.86,0.95, 10.90,0.88, 10.93,1.02, 10.97,0.92,
  11.00,1.06, 10.45,0.58, 10.38,0.58, 10.58,0.65, 10.68,0.72, 10.70,1.13, 10.96,1.03, 11.08,1.06, 11.20,1.03, 11.15,0.88,
  11.20,0.72, 10.99,0.96, 11.03,0.91, 10.73,0.98, 10.86,0.98
];

// running medians in stellar-mass bins
const binCentres = [10.1, 10.3, 10.5, 10.7, 10.9, 11.1, 11.3];
const illustrisMedian = [0.17, 0.35, 0.52, 0.56, 0.51, -0.10, -0.29];      // model ---, data Illustris
const eagleOnIllustris = [0.10, 0.26, 0.46, 0.48, 0.40, -0.07, -0.39];     // model EAGLE, data Illustris
const eagleMedian = [-0.08, -0.02, 0.10, -0.02, 0.19, 0.30, 0.38];         // model ---, data EAGLE
const illustrisOnEagle = [-0.09, -0.04, 0.09, 0.03, 0.15, 0.22, 0.38];     // model Illustris, data EAGLE

// marginal histograms (normalised density)
const massEdges = [10.0, 10.2, 10.4, 10.6, 10.8, 11.0, 11.2, 11.4];
const illustrisMassHist = [1.39, 1.17, 0.83, 0.66, 0.46, 0.31, 0.19];
const eagleMassHist = [1.35, 1.25, 1.04, 0.69, 0.43, 0.18, 0.07];

const sfrEdges = [-2.0, -1.794, -1.588, -1.382, -1.176, -0.971, -0.765, -0.559, -0.353, -0.147,
                  0.059, 0.265, 0.471, 0.676, 0.882, 1.088, 1.294, 1.5];
const illustrisSfrHist = [0.008, 0.016, 0.034, 0.049, 0.109, 0.135, 0.135, 0.180, 0.275, 0.600,
                          1.030, 1.040, 0.870, 0.309, 0.066, 0.003, 0.0];
const eagleSfrHist = [0.018, 0.018, 0.055, 0.076, 0.113, 0.156, 0.259, 0.308, 0.473, 0.757,
                      1.193, 0.823, 0.411, 0.134, 0.044, 0.012, 0.008];

const xTicks = [10.0, 10.25, 10.5, 10.75, 11.0, 11.25, 11.5, 11.75];
const yTicks = [-2, -1, 0, 1, 2];

// ---- helpers ----
const C0 = '31,119,180';
const C1 = '255,127,14';
const FONT = "'DejaVu Sans', sans-serif";

function pairs(flat) {
  const out = [];
  for (let i = 0; i < flat.length; i += 2) out.push({ x: flat[i], y: flat[i + 1] });
  return out;
}
function medianPts(ys) { return binCentres.map((x, i) => ({ x: x, y: ys[i] })); }

function stepUp(edges, h) {
  const pts = [{ x: edges[0], y: 0 }];
  h.forEach((v, i) => { pts.push({ x: edges[i], y: v }); pts.push({ x: edges[i + 1], y: v }); });
  pts.push({ x: edges[edges.length - 1], y: 0 });
  return pts;
}
function stepSide(edges, h) {
  const pts = [{ x: 0, y: edges[0] }];
  h.forEach((v, i) => { pts.push({ x: v, y: edges[i] }); pts.push({ x: v, y: edges[i + 1] }); });
  pts.push({ x: 0, y: edges[edges.length - 1] });
  return pts;
}

function drawRich(ctx, parts, x, y, angle) {
  const fontOf = k => (k ? '32px ' : '46px ') + FONT;
  ctx.save();
  ctx.translate(x, y);
  ctx.rotate(angle);
  ctx.fillStyle = '#000';
  ctx.textBaseline = 'alphabetic';
  ctx.textAlign = 'left';
  let total = 0;
  parts.forEach(p => { ctx.font = fontOf(p[1]); total += ctx.measureText(p[0]).width; });
  let cx = -total / 2;
  parts.forEach(p => {
    ctx.font = fontOf(p[1]);
    const dy = p[1] === 'sub' ? 10 : (p[1] === 'sup' ? -20 : 0);
    ctx.fillText(p[0], cx, dy);
    cx += ctx.measureText(p[0]).width;
  });
  ctx.restore();
}

function drawMarker(ctx, kind, rgb, x, y) {
  ctx.save();
  ctx.setLineDash([]);
  if (kind === 'circle') {
    ctx.beginPath();
    ctx.arc(x, y, 12, 0, Math.PI * 2);
    ctx.fillStyle = 'rgba(' + rgb + ',0.8)';
    ctx.fill();
    ctx.lineWidth = 2.5;
    ctx.strokeStyle = 'rgba(0,0,0,0.8)';
    ctx.stroke();
  } else {
    ctx.fillStyle = 'rgb(' + rgb + ')';
    ctx.fillRect(x - 12, y - 12, 24, 24);
    ctx.lineWidth = 3;
    ctx.strokeStyle = '#000';
    ctx.strokeRect(x - 12, y - 12, 24, 24);
  }
  ctx.restore();
}

const framePlugin = {
  id: 'frame',
  afterDatasetsDraw(chart) {
    const { ctx, chartArea: a } = chart;
    ctx.save();
    ctx.strokeStyle = '#000';
    ctx.lineWidth = 1.6;
    ctx.strokeRect(a.left, a.top, a.right - a.left, a.bottom - a.top);
    ctx.restore();
  }
};

const titlePlugin = {
  id: 'titles',
  afterDraw(chart) {
    const ctx = chart.ctx;
    const a = chart.chartArea;
    drawRich(ctx, [['log', ''], ['10', 'sub'], ['(M', ''], ['\u2217', 'sub'], [' / M', ''], ['\u2299', 'sub'], [')', '']],
      (a.left + a.right) / 2, 1117, 0);
    drawRich(ctx, [['log', ''], ['10', 'sub'], ['(SFR / M', ''], ['\u2299', 'sub'], [' yr', ''], ['\u22121', 'sup'], [')', '']],
      68, (a.top + a.bottom) / 2, -Math.PI / 2);
  }
};

const legendPlugin = {
  id: 'tableLegend',
  afterDraw(chart) {
    const ctx = chart.ctx;
    const blocks = [
      { rgb: C0, line: [235, 303], mark: 270, model: 338, data: 522,
        rows: [['---', 345, 'Illustris', 503], ['EAGLE', 334, 'Illustris', 503]] },
      { rgb: C1, line: [697, 766], mark: 732, model: 784, data: 958,
        rows: [['---', 807, 'EAGLE', 965], ['Illustris', 795, 'EAGLE', 965]] }
    ];
    const rowY = [275, 327];
    const textY = [290, 340];
    ctx.save();
    ctx.fillStyle = '#000';
    ctx.textBaseline = 'alphabetic';
    ctx.textAlign = 'left';
    blocks.forEach(b => {
      ctx.font = 'italic 33px ' + FONT;
      ctx.fillText('Model', b.model, 238);
      ctx.fillText('Data', b.data, 238);
      ctx.font = '33px ' + FONT;
      b.rows.forEach((r, i) => {
        ctx.fillText(r[0], r[1], textY[i]);
        ctx.fillText(r[2], r[3], textY[i]);
        ctx.beginPath();
        ctx.moveTo(b.line[0], rowY[i]);
        ctx.lineTo(b.line[1], rowY[i]);
        ctx.lineWidth = 2;
        if (i === 0) { ctx.setLineDash([9, 5]); ctx.strokeStyle = 'rgba(0,0,0,0.8)'; }
        else { ctx.setLineDash([]); ctx.strokeStyle = '#000'; }
        ctx.stroke();
        ctx.setLineDash([]);
        drawMarker(ctx, i === 0 ? 'circle' : 'square', b.rgb, b.mark, rowY[i]);
      });
    });
    ctx.restore();
  }
};

function medianSet(ys, rgb, dashed, order) {
  return {
    type: 'line', data: medianPts(ys), order: order,
    borderColor: dashed ? 'rgba(0,0,0,0.8)' : '#000', borderWidth: 2,
    borderDash: dashed ? [10, 5] : [],
    pointStyle: dashed ? 'circle' : 'rect',
    pointRadius: dashed ? 12 : 17,
    pointBackgroundColor: dashed ? 'rgba(' + rgb + ',0.8)' : 'rgb(' + rgb + ')',
    pointBorderColor: dashed ? 'rgba(0,0,0,0.8)' : '#000',
    pointBorderWidth: dashed ? 2.5 : 3,
    fill: false, tension: 0
  };
}

function scatterSet(flat, rgb, order) {
  return {
    data: pairs(flat), order: order,
    pointRadius: 2.6, pointBorderWidth: 2.6,
    pointBackgroundColor: 'rgba(' + rgb + ',0.38)',
    pointBorderColor: 'rgba(' + rgb + ',0.38)'
  };
}

const tickFont = { family: FONT, size: 33 };

new Chart(document.getElementById('main'), {
  type: 'scatter',
  data: {
    datasets: [
      scatterSet(illustrisPts, C0, 10),
      scatterSet(eaglePts, C1, 9),
      medianSet(illustrisMedian, C0, true, 6),
      medianSet(eagleMedian, C1, true, 5),
      medianSet(eagleOnIllustris, C0, false, 4),
      medianSet(illustrisOnEagle, C1, false, 3)
    ]
  },
  options: {
    responsive: false, devicePixelRatio: 1, animation: false, events: [],
    layout: { padding: { top: 188, right: 219, left: 0, bottom: 0 } },
    plugins: { legend: { display: false }, tooltip: { enabled: false } },
    scales: {
      x: {
        type: 'linear', min: 9.9, max: 11.8,
        afterBuildTicks: s => { s.ticks = xTicks.map(v => ({ value: v })); },
        afterFit: s => { s.height = 150; },
        ticks: { callback: v => v.toFixed(2), font: tickFont, color: '#000', padding: 17, maxRotation: 0, autoSkip: false },
        grid: { drawOnChartArea: false, drawTicks: true, tickLength: 10, tickColor: '#000', tickWidth: 1.6 },
        border: { display: true, color: '#000', width: 1.6 }
      },
      y: {
        type: 'linear', min: -2.5, max: 2.3,
        afterBuildTicks: s => { s.ticks = yTicks.map(v => ({ value: v })); },
        afterFit: s => { s.width = 173; },
        ticks: { callback: v => (v < 0 ? '\u2212' + Math.abs(v) : String(v)), font: tickFont, color: '#000', padding: 12, autoSkip: false },
        grid: { drawOnChartArea: false, drawTicks: true, tickLength: 10, tickColor: '#000', tickWidth: 1.6 },
        border: { display: true, color: '#000', width: 1.6 }
      }
    }
  },
  plugins: [framePlugin, titlePlugin, legendPlugin]
});

function histSet(pts, colour, order) {
  return { data: pts, showLine: true, pointRadius: 0, borderColor: colour, borderWidth: 2.5, order: order, clip: false, tension: 0 };
}
const bare = { display: false };

new Chart(document.getElementById('top'), {
  type: 'scatter',
  data: { datasets: [
    histSet(stepUp(massEdges, illustrisMassHist), '#1f77b4', 2),
    histSet(stepUp(massEdges, eagleMassHist), '#ff7f0e', 1)
  ] },
  options: {
    responsive: false, devicePixelRatio: 1, animation: false, events: [],
    layout: { padding: 0 },
    plugins: { legend: { display: false }, tooltip: { enabled: false } },
    scales: { x: Object.assign({ type: 'linear', min: 9.9, max: 11.8 }, bare), y: Object.assign({ min: 0, max: 1.46 }, bare) }
  }
});

new Chart(document.getElementById('right'), {
  type: 'scatter',
  data: { datasets: [
    histSet(stepSide(sfrEdges, illustrisSfrHist), '#1f77b4', 2),
    histSet(stepSide(sfrEdges, eagleSfrHist), '#ff7f0e', 1)
  ] },
  options: {
    responsive: false, devicePixelRatio: 1, animation: false, events: [],
    layout: { padding: 0 },
    plugins: { legend: { display: false }, tooltip: { enabled: false } },
    scales: { x: Object.assign({ type: 'linear', min: 0, max: 1.253 }, bare), y: Object.assign({ min: -2.5, max: 2.3 }, bare) }
  }
});
</script>
</body>
</html>
